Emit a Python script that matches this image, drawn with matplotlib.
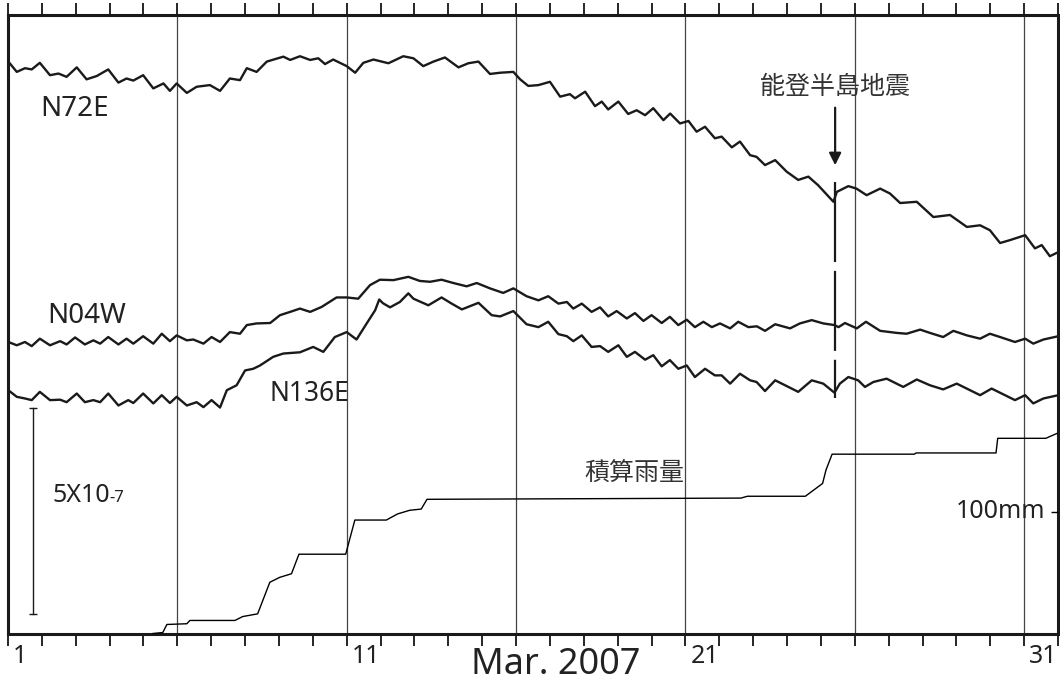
import matplotlib
matplotlib.use('Agg')
import matplotlib.pyplot as plt
import matplotlib.transforms as mtransforms

plt.rcParams['font.family'] = ['Noto Sans', 'DejaVu Sans']
plt.rcParams['font.stretch'] = 'condensed'
JP = ['Noto Sans CJK JP', 'DejaVu Sans']

# strain traces, day of March 2007 / value in 1e-8 (arbitrary offset)
n72e_day = [1.01, 1.26, 1.50, 1.70, 1.94, 2.24, 2.49, 2.73, 3.03, 3.32,
            3.62, 3.96, 4.26, 4.50, 4.70, 4.99, 5.29, 5.59, 5.78, 5.98,
            6.28, 6.57, 6.96, 7.26, 7.55, 7.85, 8.05, 8.34, 8.64, 9.13,
            9.33, 9.62, 9.92, 10.16, 10.36, 10.60, 11.00, 11.25, 11.49, 11.79,
            12.23, 12.67, 12.97, 13.26, 13.56, 13.90, 14.30, 14.59, 14.89, 15.23,
            15.53, 15.92, 16.12, 16.36, 16.66, 17.00, 17.30, 17.59, 17.74, 18.04,
            18.33, 18.53, 18.72, 19.02, 19.31, 19.56, 19.81, 20.05, 20.35, 20.55,
            20.84, 21.09, 21.33, 21.58, 21.87, 22.07, 22.37, 22.61, 22.91, 23.10,
            23.35, 23.65, 23.99, 24.33, 24.63, 24.92, 25.37, 25.47, 25.81, 26.05,
            26.35, 26.75, 27.04, 27.34, 27.83, 28.32, 28.81, 29.31, 29.70, 29.99,
            30.29, 30.58, 31.03, 31.32, 31.52, 31.76, 32.01]
n72e_val = [138.7, 136.2, 137.1, 136.8, 138.4, 135.4, 135.8, 135.0, 137.3, 134.4,
            135.2, 136.8, 133.6, 134.6, 134.1, 135.4, 132.2, 133.4, 131.6, 133.4,
            131.1, 132.6, 133.0, 131.6, 134.6, 134.2, 137.1, 136.2, 138.7, 139.9,
            139.1, 140.0, 139.1, 139.5, 138.1, 139.2, 137.6, 136.0, 138.4, 139.2,
            138.3, 140.0, 139.5, 137.6, 138.7, 139.7, 137.3, 138.3, 138.7, 135.7,
            136.0, 136.2, 134.4, 132.8, 133.0, 133.8, 130.2, 130.8, 129.8, 131.4,
            127.9, 129.0, 127.1, 129.0, 126.0, 126.9, 125.7, 127.4, 124.5, 126.1,
            123.7, 124.3, 121.7, 122.9, 120.1, 120.5, 117.9, 119.3, 116.0, 115.6,
            113.6, 114.8, 112.0, 110.0, 110.8, 108.7, 104.7, 107.1, 108.5, 107.9,
            106.3, 107.9, 106.7, 104.4, 104.7, 101.0, 101.5, 98.6, 99.0, 97.8,
            94.7, 95.4, 96.6, 93.4, 94.2, 91.5, 92.5]

n04w_day = [1.01, 1.26, 1.50, 1.70, 1.94, 2.24, 2.54, 2.73, 2.98, 3.27,
            3.52, 3.72, 3.96, 4.26, 4.50, 4.70, 4.99, 5.29, 5.54, 5.78,
            5.98, 6.28, 6.47, 6.77, 7.01, 7.26, 7.55, 7.85, 8.05, 8.34,
            8.74, 9.03, 9.33, 9.62, 9.92, 10.26, 10.70, 11.00, 11.34, 11.69,
            11.98, 12.38, 12.82, 13.16, 13.46, 13.80, 14.15, 14.54, 14.84, 15.23,
            15.62, 15.92, 16.31, 16.66, 16.95, 17.25, 17.50, 17.69, 17.94, 18.23,
            18.48, 18.72, 18.97, 19.27, 19.51, 19.76, 20.00, 20.30, 20.54, 20.79,
            21.04, 21.28, 21.53, 21.78, 22.02, 22.32, 22.56, 22.86, 23.11, 23.35,
            23.65, 24.09, 24.38, 24.73, 25.07, 25.40, 25.52, 25.71, 26.06, 26.33,
            26.75, 27.24, 27.53, 27.93, 28.22, 28.61, 28.91, 29.31, 29.70, 29.99,
            30.29, 30.73, 31.03, 31.27, 31.57, 32.01]
n04w_val = [70.7, 69.9, 70.7, 69.7, 71.5, 69.9, 70.9, 70.1, 71.8, 70.1,
            71.1, 70.3, 71.9, 70.1, 71.5, 70.3, 72.1, 70.3, 72.7, 70.9,
            72.3, 71.1, 71.3, 70.3, 71.9, 70.7, 73.1, 72.7, 74.8, 75.2,
            75.3, 77.2, 78.0, 78.8, 78.0, 79.2, 81.5, 81.5, 81.2, 84.5,
            85.8, 85.7, 86.5, 85.5, 85.3, 85.8, 85.0, 84.2, 85.0, 83.7,
            82.6, 83.7, 81.8, 80.8, 81.8, 80.0, 80.4, 78.8, 80.0, 78.0,
            79.1, 76.9, 78.2, 76.4, 77.7, 75.8, 77.2, 75.3, 76.8, 74.8,
            76.1, 74.3, 75.6, 74.3, 75.2, 74.0, 75.6, 74.3, 74.5, 73.4,
            75.0, 74.0, 75.2, 76.0, 75.2, 74.8, 74.3, 75.3, 74.0, 75.6,
            73.4, 72.9, 72.7, 73.7, 72.9, 71.9, 73.4, 72.3, 71.5, 72.7,
            71.9, 70.7, 71.5, 70.3, 71.3, 72.1]

n136e_day = [1.01, 1.26, 1.50, 1.70, 1.94, 2.24, 2.54, 2.73, 3.03, 3.27,
             3.52, 3.72, 3.96, 4.26, 4.55, 4.70, 4.99, 5.29, 5.54, 5.78,
             5.98, 6.28, 6.57, 6.77, 7.01, 7.26, 7.46, 7.75, 8.00, 8.24,
             8.44, 8.83, 9.13, 9.62, 10.01, 10.31, 10.65, 11.00, 11.29, 11.59,
             11.84, 11.96, 12.07, 12.28, 12.57, 12.82, 12.97, 13.41, 13.80, 14.10,
             14.40, 14.89, 15.28, 15.53, 15.92, 16.31, 16.66, 16.95, 17.25, 17.50,
             17.69, 17.94, 18.23, 18.48, 18.72, 19.02, 19.27, 19.51, 19.81, 20.05,
             20.30, 20.54, 20.79, 21.04, 21.28, 21.58, 21.87, 22.07, 22.32, 22.61,
             22.91, 23.10, 23.35, 23.65, 24.04, 24.33, 24.73, 25.07, 25.40, 25.56,
             25.81, 26.10, 26.30, 26.55, 26.94, 27.43, 27.83, 28.22, 28.61, 29.01,
             29.70, 30.04, 30.73, 31.03, 31.27, 31.57, 32.01]
n136e_val = [59.0, 57.4, 57.0, 56.6, 58.6, 56.6, 56.7, 56.1, 58.2, 56.1,
             56.6, 56.1, 58.2, 55.3, 56.6, 55.9, 58.2, 55.8, 57.8, 55.9,
             57.4, 55.3, 56.1, 54.9, 56.6, 54.8, 59.0, 60.2, 63.8, 64.2,
             65.0, 67.1, 67.9, 68.2, 69.5, 68.3, 71.9, 73.1, 71.3, 75.2,
             78.4, 81.0, 80.1, 79.1, 80.4, 82.5, 81.2, 79.6, 81.5, 80.0,
             78.6, 80.2, 77.2, 76.9, 78.2, 75.0, 74.3, 75.6, 72.6, 72.1,
             70.9, 72.3, 69.5, 69.7, 68.3, 69.9, 67.1, 68.3, 66.4, 67.5,
             64.8, 66.3, 64.2, 65.0, 62.2, 64.2, 62.6, 62.6, 60.6, 63.0,
             61.4, 61.0, 58.8, 61.4, 59.8, 58.6, 61.4, 60.6, 58.4, 60.6,
             62.2, 61.4, 59.8, 61.0, 61.8, 59.8, 61.6, 60.2, 59.2, 60.6,
             57.8, 59.4, 56.6, 57.8, 55.8, 57.0, 57.8]

# cumulative rainfall (mm)
rain_day = [5.28, 5.57, 5.69, 6.28, 6.37, 7.70, 7.93, 8.37, 8.73, 9.02,
            9.37, 9.59, 10.97, 11.24, 12.17, 12.50, 12.86, 13.20, 13.37, 22.64,
            22.83, 24.54, 24.71, 25.05, 25.15, 25.33, 27.76, 27.81, 30.17, 30.22,
            31.64, 31.97]
rain_mm = [0, 0.8, 7.4, 8, 10.7, 10.7, 13.9, 16.1, 42, 46,
           49, 65, 65, 93, 93, 98, 101, 102, 110, 111,
           112.5, 112.5, 116, 123, 134, 147, 147, 148, 148, 160,
           160, 164]

quake_day = 25.42
grid_days = [6, 11, 16, 21, 26, 31]
label_days = [1, 11, 21, 31]

fig = plt.figure(figsize=(10.6, 6.91), dpi=100)
ax = fig.add_axes([8 / 1060, 57.5 / 691, 1050 / 1060, 618.5 / 691])
ax.set_xlim(1, 32)
ax.set_ylim(0, 150)

for d in grid_days:
    ax.axvline(d, color='#444444', lw=0.9, zorder=1)

ink = '#1a1a1a'
ax.plot(n72e_day, n72e_val, color=ink, lw=1.7, zorder=3)
ax.plot(n04w_day, n04w_val, color=ink, lw=1.7, zorder=3)
ax.plot(n136e_day, n136e_val, color=ink, lw=1.7, zorder=3)

# earthquake marker
ax.plot([quake_day, quake_day], [109.5, 57.0], color=ink, lw=1.6,
        linestyle=(0, (36, 4)), zorder=4)
ax.annotate('', xy=(quake_day, 112.9), xytext=(quake_day, 128.2),
            arrowprops=dict(arrowstyle='-|>', color=ink, lw=1.6,
                            mutation_scale=18))
ax.text(quake_day, 132.5, '能登半島地震', family=JP, fontsize=18,
        color='#333333', ha='center', va='center')

# scale bar 5x10^-7
ax.plot([1.75, 1.75], [4.8, 54.8], color=ink, lw=1.0)
ax.plot([1.75, 1.75], [4.8, 54.8], color=ink, lw=0, marker='_', ms=6, mew=1.0)
t1 = ax.text(2.30, 33.5, '5X10', fontsize=18, color='#222222',
             ha='left', va='center')
ax.annotate('-7', xy=(1.0, 0.08), xycoords=t1, fontsize=12, color='#222222',
            ha='left', va='bottom')

ax.text(1.94, 127.2, 'N72E', fontsize=20, color='#222222', va='center')
ax.text(2.15, 76.9, 'N04W', fontsize=20, color='#222222', va='center')
ax.text(8.71, 58.1, 'N136E', fontsize=19, color='#222222', va='center')
ax.text(19.48, 38.8, '積算雨量', family=JP, fontsize=18, color='#333333',
        ha='center', va='center')

# rainfall on its own scale
ax2 = ax.twinx()
ax2.set_ylim(0, 507)
ax2.plot(rain_day, rain_mm, color='black', lw=1.0)
ax2.set_yticks([100])
ax2.tick_params(axis='y', direction='in', length=5, width=1.0, labelright=False)
for s in ax2.spines.values():
    s.set_visible(False)
ax2.text(31.62, 100, '100mm', fontsize=18, color='#222222', ha='right', va='center')

ax.set_xticks(range(1, 33))
ax.set_yticks([])
ax.tick_params(axis='x', direction='out', length=8.6, width=1.2,
               top=True, bottom=True, labelbottom=False, labeltop=False)
for s in ax.spines.values():
    s.set_linewidth(2.2)
    s.set_color(ink)

trans = mtransforms.blended_transform_factory(ax.transData, ax.transAxes)
for d in label_days:
    ax.text(d + 0.15, -0.017, str(d), transform=trans, fontsize=18,
            color='#222222', ha='left', va='top')

fig.text(556 / 1060, 1 - 665 / 691, 'Mar. 2007', fontsize=26, color='#222222',
         ha='center', va='center')

fig.savefig('out.png', dpi=100)
